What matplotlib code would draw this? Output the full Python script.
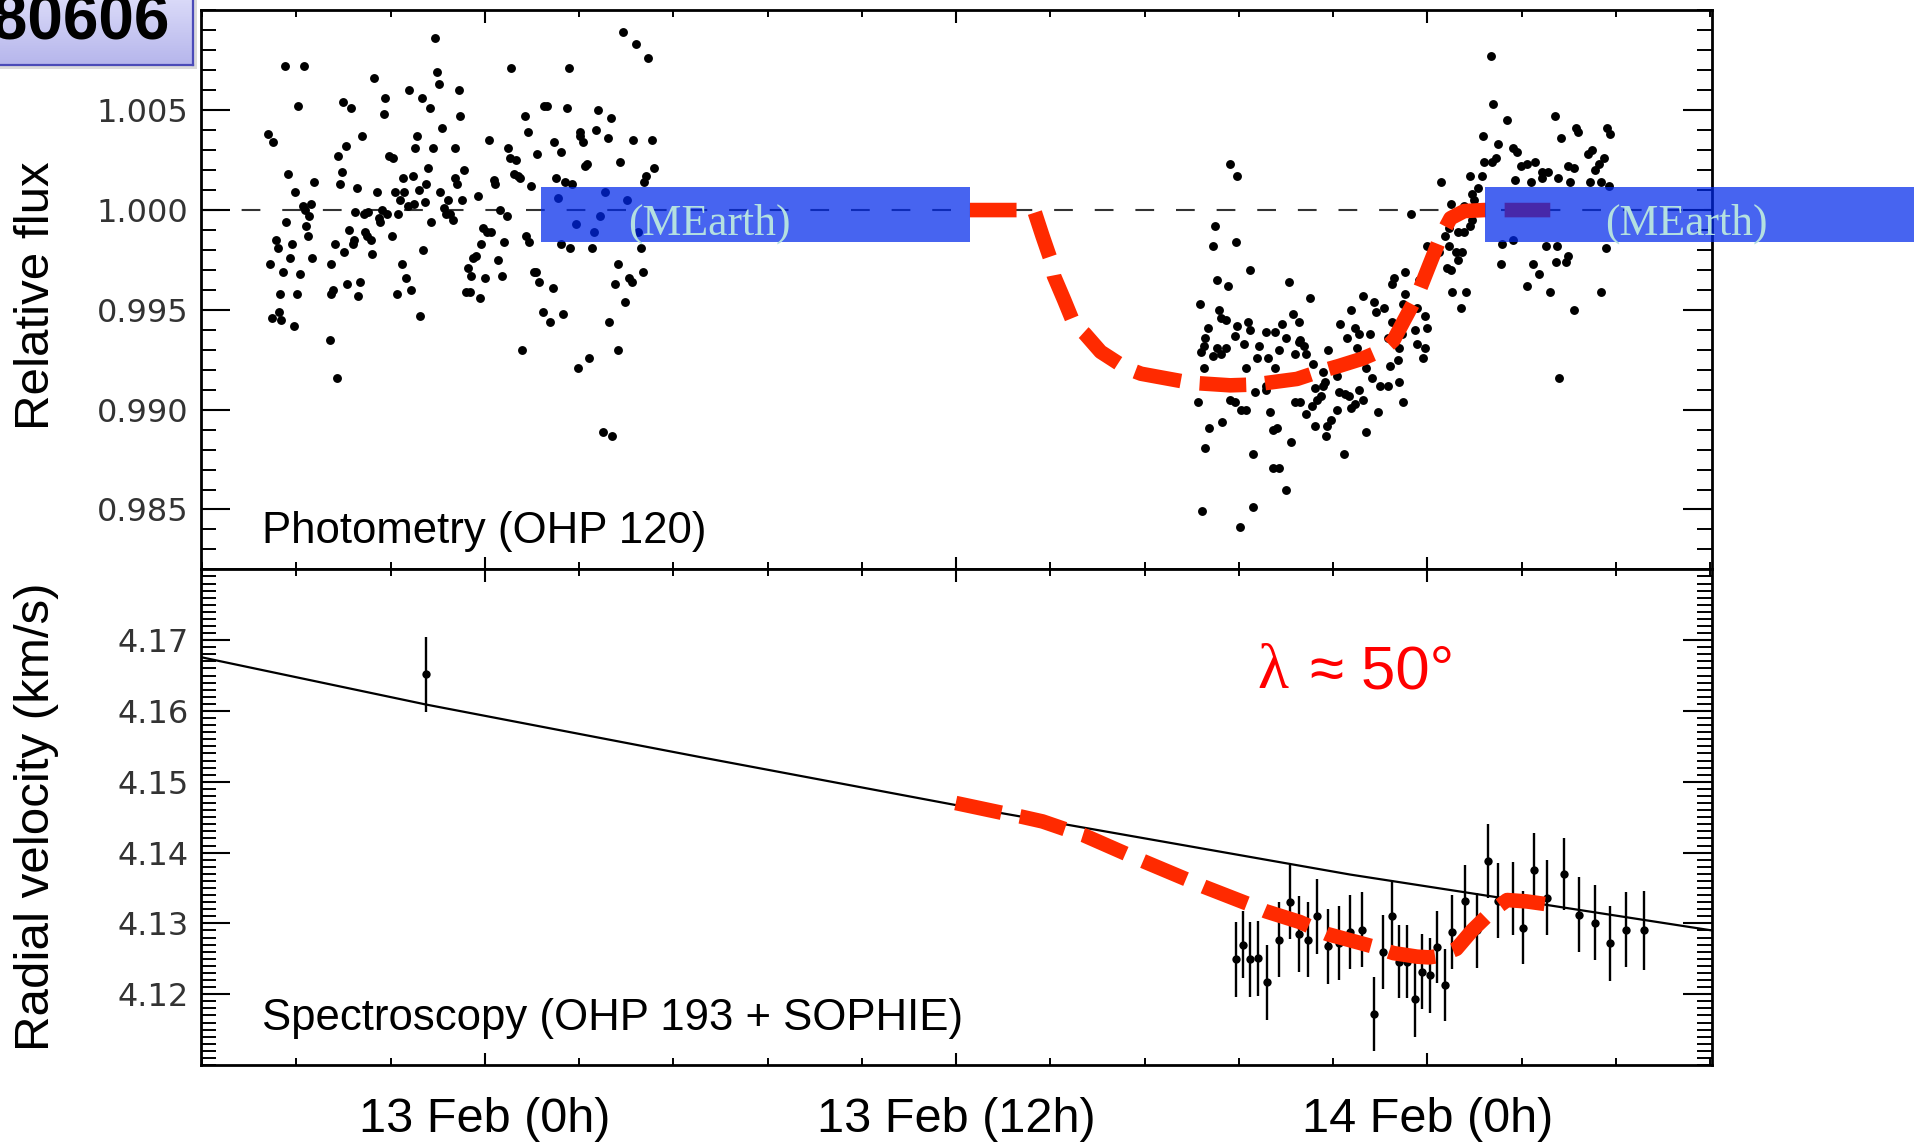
import numpy as np
import matplotlib
matplotlib.use("Agg")
import matplotlib.pyplot as plt
from matplotlib.patches import Rectangle
from matplotlib.colors import LinearSegmentedColormap
from matplotlib.ticker import FixedLocator, MultipleLocator, FormatStrFormatter

# x values are hours since 13 Feb 0h

# photometry before the transit (OHP 120)
phot_pre_hours = [
    -5.52, -5.39, -5.47, -5.41, -5.32, -5.27, -5.24, -5.18, -5.23, -5.14, -5.10, -5.06, -5.01, -4.97,
    -4.90, -4.86, -4.84, -4.78, -4.75, -4.70, -4.64, -4.61, -4.58, -4.55, -4.50, -4.48, -4.44, -4.39,
    -4.34, -3.95, -3.93, -3.91, -3.88, -3.82, -3.76, -3.74, -3.68, -3.65, -3.61, -3.58, -3.53, -3.50,
    -3.45, -3.41, -3.36, -3.34, -3.31, -3.25, -3.22, -3.18, -3.14, -3.08, -3.05, -3.00, -2.97, -2.91,
    -2.88, -2.82, -2.74, -2.70, -2.66, -2.63, -2.57, -2.55, -2.50, -2.43, -2.36, -2.34, -2.28, -2.25,
    -2.20, -2.16, -2.11, -2.08, -2.05, -2.00, -1.95, -1.92, -1.89, -1.83, -1.80, -1.77, -1.72, -1.68,
    -1.66, -1.61, -1.57, -1.52, -1.49, -1.45, -1.41, -1.36, -1.32, -1.26, -1.23, -1.18, -1.15, -1.09,
    -1.03, -1.00, -0.95, -0.89, -0.81, -0.77, -0.75, -0.70, -0.67, -0.64, -0.58, -0.52, -0.47, -0.43,
    -0.39, -0.35, -0.30, -0.23, -0.18, -0.13, -0.09, -0.05, 0.00, 0.05, 0.11, 0.16, 0.22, 0.27,
    0.33, 0.39, 0.44, 0.48, 0.56, 0.59, 0.64, 0.67, 0.73, 0.78, 0.84, 0.90, 0.95, 1.01,
    1.05, 1.10, 1.13, 1.18, 1.24, 1.30, 1.33, 1.39, 1.47, 1.50, 1.58, 1.66, 1.73, 1.75,
    1.81, 1.86, 1.93, 1.95, 2.00, 2.03, 2.09, 2.15, 2.18, 2.23, 2.32, 2.38, 2.41, 2.43,
    2.49, 2.55, 2.60, 2.66, 2.72, 2.77, 2.83, 2.89, 2.94, 3.00, 3.06, 3.14, 3.17, 3.20,
    3.23, 3.32, 3.38, 3.40, 3.45, 3.51, 3.57, 3.63, 3.68, 3.74, 3.77, 3.85, 3.91, 3.97,
    4.02, 4.05, 4.11, 4.16, 4.25, 4.31,
]
phot_pre_flux = [
    1.0038, 1.0034, 0.9973, 0.9946, 0.9985, 0.9981, 0.9949, 0.9945, 0.9958, 0.9969, 1.0072, 0.9994, 1.0018, 0.9976,
    0.9983, 0.9942, 1.0009, 0.9958, 1.0052, 0.9968, 1.0002, 1.0072, 1.0000, 0.9992, 0.9987, 0.9997, 1.0003, 0.9976,
    1.0014, 0.9935, 0.9958, 0.9973, 0.9960, 0.9983, 0.9916, 1.0027, 1.0013, 1.0019, 1.0054, 0.9979, 1.0032, 0.9963,
    0.9990, 1.0051, 0.9983, 0.9985, 0.9999, 1.0011, 0.9957, 0.9964, 1.0037, 0.9998, 0.9989, 0.9987, 0.9999, 0.9985,
    0.9978, 1.0066, 1.0009, 0.9996, 0.9994, 1.0000, 1.0048, 1.0056, 0.9998, 1.0027, 0.9987, 1.0026, 1.0009, 0.9958,
    0.9998, 1.0005, 0.9973, 1.0016, 1.0009, 0.9966, 1.0002, 1.0060, 0.9960, 1.0017, 1.0003, 1.0031, 1.0037, 1.0010,
    0.9947, 1.0056, 0.9980, 1.0004, 1.0013, 1.0021, 1.0051, 0.9994, 1.0031, 1.0086, 1.0069, 1.0063, 1.0009, 1.0041,
    1.0001, 0.9998, 1.0005, 0.9998, 0.9995, 1.0031, 1.0016, 1.0013, 1.0060, 1.0047, 1.0005, 1.0020, 0.9959, 0.9971,
    0.9959, 0.9967, 0.9976, 0.9977, 1.0007, 0.9956, 0.9983, 0.9991, 0.9966, 0.9989, 1.0035, 0.9989, 1.0015, 1.0013,
    0.9975, 1.0000, 0.9967, 0.9984, 0.9997, 1.0031, 1.0026, 1.0071, 1.0018, 1.0025, 1.0017, 1.0016, 0.9930, 1.0047,
    0.9987, 1.0039, 0.9984, 1.0012, 0.9969, 0.9969, 1.0028, 0.9964, 0.9949, 1.0052, 1.0052, 0.9944, 0.9961, 1.0034,
    1.0016, 1.0006, 1.0029, 0.9983, 0.9948, 1.0014, 1.0051, 1.0071, 0.9981, 1.0013, 0.9993, 0.9921, 1.0037, 1.0039,
    1.0034, 1.0022, 1.0023, 0.9926, 0.9981, 0.9989, 1.0040, 1.0050, 0.9997, 0.9889, 1.0009, 1.0036, 0.9944, 1.0046,
    0.9887, 0.9963, 0.9930, 0.9973, 1.0024, 1.0089, 0.9954, 1.0005, 0.9966, 0.9964, 1.0035, 1.0083, 0.9989, 0.9981,
    0.9969, 1.0014, 1.0017, 1.0076, 1.0035, 1.0021,
]

# photometry during the transit night
phot_in_hours = [
    18.98, 19.15, 18.58, 18.55, 19.12, 19.49, 18.64, 18.92, 20.48, 18.21, 18.70, 18.75, 18.87, 19.15,
    19.43, 19.49, 20.57, 20.74, 20.29, 18.41, 19.09, 19.32, 19.89, 20.12, 20.40, 20.74, 18.35, 18.30,
    18.64, 18.87, 19.72, 20.23, 18.24, 18.55, 18.75, 19.66, 19.95, 20.63, 18.30, 19.38, 20.12, 19.89,
    19.60, 19.89, 20.34, 18.16, 18.98, 19.09, 19.26, 19.38, 20.00, 20.63, 18.43, 18.78, 20.06, 20.17,
    18.35, 19.57, 20.54, 20.06, 20.23, 20.40, 19.55, 18.27, 19.23,
    25.61, 25.66, 26.03, 27.25, 25.41, 25.81, 26.18, 26.28, 27.41, 27.78, 27.83, 28.58, 28.65, 28.08,
    28.18, 28.38, 28.51, 25.44, 25.64, 25.74, 26.38, 26.53, 26.73, 26.93, 27.08, 27.33, 27.58, 27.73,
    25.39, 25.09, 25.29, 26.23, 26.63, 26.93, 27.63, 28.13, 28.28, 28.43, 28.63, 24.59, 24.34, 25.14,
    25.19, 23.59, 24.94, 24.54, 24.79, 24.94, 25.09, 25.14, 24.44, 24.29, 23.99, 24.54, 24.74, 24.89,
    24.79, 24.49, 24.59, 25.88, 25.91, 26.18, 27.01, 27.31, 27.58, 27.53, 27.28, 26.68, 26.85, 26.53,
    27.13, 27.73, 28.55, 28.41, 27.35, 23.44, 23.14, 23.09, 23.79, 24.64, 24.99, 24.86, 23.44, 23.39,
    23.74, 23.94, 23.99, 23.69, 23.74, 23.94, 23.89, 23.29, 23.36, 23.09, 22.89, 22.69, 22.99, 22.35,
    22.64, 22.05, 21.77, 22.15, 22.25, 22.20, 21.95, 22.54, 22.44, 22.59, 22.79, 22.99, 23.24, 23.04,
    23.29, 23.39, 22.74, 22.44, 21.87, 21.47, 21.67, 21.70, 21.40, 21.35, 21.15, 21.30, 21.20, 21.90,
    22.00, 22.15, 22.05, 21.70, 21.55, 21.45, 21.15, 21.05, 20.75, 20.90, 21.43, 21.00, 20.75, 20.85,
    20.90, 21.10, 21.35, 21.75, 22.25, 22.35,
]
phot_in_flux = [
    1.0023, 1.0017, 0.9992, 0.9982, 0.9984, 0.9970, 0.9965, 0.9962, 0.9964, 0.9953, 0.9950, 0.9946, 0.9945, 0.9942,
    0.9944, 0.9940, 0.9948, 0.9944, 0.9943, 0.9941, 0.9937, 0.9933, 0.9939, 0.9939, 0.9936, 0.9934, 0.9936, 0.9932,
    0.9931, 0.9931, 0.9932, 0.9930, 0.9929, 0.9927, 0.9928, 0.9926, 0.9926, 0.9928, 0.9921, 0.9921, 0.9921, 0.9912,
    0.9909, 0.9910, 0.9914, 0.9904, 0.9905, 0.9904, 0.9900, 0.9900, 0.9899, 0.9904, 0.9891, 0.9894, 0.9890, 0.9891,
    0.9881, 0.9878, 0.9884, 0.9871, 0.9871, 0.9860, 0.9851, 0.9849, 0.9841,
    1.0077, 1.0053, 1.0045, 1.0047, 1.0037, 1.0033, 1.0031, 1.0029, 1.0036, 1.0041, 1.0039, 1.0041, 1.0038, 1.0028,
    1.0030, 1.0023, 1.0026, 1.0024, 1.0024, 1.0026, 1.0022, 1.0023, 1.0024, 1.0019, 1.0019, 1.0016, 1.0022, 1.0021,
    1.0017, 1.0017, 1.0011, 1.0015, 1.0014, 1.0016, 1.0014, 1.0014, 1.0020, 1.0014, 1.0012, 1.0003, 1.0014, 1.0008,
    1.0005, 0.9998, 1.0002, 0.9991, 0.9989, 0.9989, 0.9992, 0.9995, 0.9987, 0.9979, 0.9982, 0.9982, 0.9979, 0.9979,
    0.9975, 0.9971, 0.9970, 0.9973, 0.9983, 0.9985, 0.9982, 0.9982, 0.9977, 0.9974, 0.9974, 0.9973, 0.9968, 0.9962,
    0.9959, 0.9950, 0.9981, 0.9959, 0.9916, 0.9969, 0.9966, 0.9963, 0.9965, 0.9959, 0.9959, 0.9951, 0.9958, 0.9953,
    0.9951, 0.9947, 0.9941, 0.9940, 0.9933, 0.9931, 0.9926, 0.9931, 0.9938, 0.9944, 0.9951, 0.9949, 0.9936, 0.9957,
    0.9954, 0.9950, 0.9943, 0.9941, 0.9938, 0.9931, 0.9936, 0.9938, 0.9921, 0.9916, 0.9912, 0.9912, 0.9925, 0.9922,
    0.9914, 0.9904, 0.9899, 0.9889, 0.9878, 0.9930, 0.9923, 0.9917, 0.9914, 0.9912, 0.9911, 0.9907, 0.9905, 0.9908,
    0.9907, 0.9903, 0.9901, 0.9900, 0.9895, 0.9892, 0.9892, 0.9902, 0.9904, 0.9898, 0.9887, 0.9956, 0.9935, 0.9932,
    0.9928, 0.9923, 0.9919, 0.9909, 0.9910, 0.9905,
]

# transit model (photometry)
model_phot_hours = [12.35, 13.80, 14.00, 14.20, 14.41, 14.49, 14.75, 15.00, 15.28, 15.68, 16.31, 16.71,
                    17.96, 18.98, 19.60, 20.68, 21.25, 21.75, 22.35, 22.89, 23.14, 23.39, 23.74, 24.04,
                    24.34, 24.59, 24.94, 25.44, 27.13]
model_phot_flux = [1.0000, 1.0000, 0.9999, 0.9987, 0.9975, 0.9967, 0.9955, 0.9943, 0.9938, 0.9929, 0.9921, 0.9918,
                   0.99135, 0.99122, 0.99126, 0.99154, 0.99191, 0.99219, 0.99256, 0.99302, 0.99348, 0.99441, 0.99570, 0.99719,
                   0.99867, 0.99959, 0.99995, 1.0000, 1.0000]

# MEarth coverage
mearth_start = [1.44, 25.46]
mearth_end = [12.35, 37.0]
mearth_low, mearth_high = 0.99841, 1.00114
mearth_label_hours = [3.64, 28.52]

# radial velocities (OHP 193 + SOPHIE)
rv_hours = [-1.49, 19.12, 19.30, 19.49, 19.68, 19.91, 20.23, 20.49, 20.72, 20.95, 21.20, 21.46, 21.74, 22.03,
            22.33, 22.64, 22.87, 23.10, 23.29, 23.49, 23.69, 23.87, 24.06, 24.24, 24.44, 24.64, 24.97, 25.26,
            25.54, 25.81, 26.18, 26.43, 26.71, 27.05, 27.48, 27.86, 28.28, 28.65, 29.05, 29.52]
rv_kms = [4.1652, 4.1249, 4.1270, 4.1249, 4.1251, 4.1217, 4.1277, 4.1330, 4.1285, 4.1277, 4.1310, 4.1268, 4.1272, 4.1288,
          4.1291, 4.1172, 4.1260, 4.1310, 4.1246, 4.1246, 4.1193, 4.1232, 4.1227, 4.1267, 4.1213, 4.1288, 4.1331, 4.1290,
          4.1388, 4.1332, 4.1335, 4.1294, 4.1375, 4.1336, 4.1370, 4.1312, 4.1301, 4.1272, 4.1291, 4.1290]
rv_err = [0.0053, 0.0053, 0.0047, 0.0053, 0.0053, 0.0053, 0.0053, 0.0052, 0.0053, 0.0053, 0.0053, 0.0053, 0.0052, 0.0052,
          0.0053, 0.0052, 0.0052, 0.0051, 0.0052, 0.0052, 0.0053, 0.0053, 0.0053, 0.0051, 0.0051, 0.0052, 0.0052, 0.0053,
          0.0052, 0.0053, 0.0052, 0.0052, 0.0052, 0.0053, 0.0051, 0.0053, 0.0053, 0.0053, 0.0053, 0.0056]

# keplerian orbit without transit
orbit_hours = [-7.23, -1.49, 5.47, 12.0, 22.03, 31.25]
orbit_kms = [4.1676, 4.1609, 4.1535, 4.1467, 4.1369, 4.1290]

# Rossiter-McLaughlin model
model_rv_hours = [11.99, 13.18, 13.64, 14.20, 14.83, 15.23, 16.42, 16.76, 17.96, 18.30, 19.55, 19.89, 20.75,
                  21.45, 22.64, 23.14, 23.74, 24.04, 24.29, 24.74, 25.14, 25.64, 26.03, 26.53, 27.18]
model_rv_kms = [4.1470, 4.1456, 4.1451, 4.1444, 4.1432, 4.1425, 4.1396, 4.1388, 4.1360, 4.1352, 4.1325, 4.1317, 4.1302,
                4.1285, 4.1267, 4.1258, 4.1253, 4.1252, 4.1254, 4.1264, 4.1290, 4.1317, 4.1333, 4.1331, 4.1326]

day_ticks = [0, 12, 24]
day_labels = ["13 Feb (0h)", "13 Feb (12h)", "14 Feb (0h)"]
flux_ticks = [0.985, 0.990, 0.995, 1.000, 1.005]
rv_ticks = [4.12, 4.13, 4.14, 4.15, 4.16, 4.17]

RED = "#ff2a00"
SANS = "Liberation Sans"


def style_axes(ax, yticks):
    ax.set_xlim(-7.23, 31.25)
    ax.xaxis.set_major_locator(FixedLocator(day_ticks))
    ax.xaxis.set_minor_locator(MultipleLocator(2.4))
    ax.yaxis.set_major_locator(FixedLocator(yticks))
    ax.yaxis.set_minor_locator(MultipleLocator(0.001))
    ax.tick_params(which="both", direction="in", top=True, right=True, color="black")
    ax.tick_params(axis="y", which="major", length=21, width=1.5,
                   labelsize=23, labelcolor="#333333", pad=9)
    ax.tick_params(axis="y", which="minor", length=10.5, width=1.4)
    ax.tick_params(axis="x", which="major", length=9, width=1.5)
    ax.tick_params(axis="x", which="minor", length=5, width=1.4)
    for s in ax.spines.values():
        s.set_linewidth(2.0)


fig = plt.figure(figsize=(19.14, 11.47), dpi=100)
ax1 = fig.add_axes([0.1050, 0.5036, 0.7895, 0.4873])
ax2 = fig.add_axes([0.1050, 0.0715, 0.7895, 0.4321])

# --- photometry panel
style_axes(ax1, flux_ticks)
ax1.set_ylim(0.982, 1.010)
ax1.yaxis.set_major_formatter(FormatStrFormatter("%.3f"))
ax1.tick_params(axis="x", labelbottom=False)

ax1.axhline(1.0, color="#333333", lw=1.5, dashes=(9, 10.5), zorder=1)
ax1.plot(phot_pre_hours, phot_pre_flux, "o", color="black", ms=6.4, mew=0, zorder=2)
ax1.plot(phot_in_hours, phot_in_flux, "o", color="black", ms=6.4, mew=0, zorder=2)
ax1.plot(model_phot_hours, model_phot_flux, color=RED, lw=10.5, dashes=(3.2, 1.3), zorder=4)

for x0, x1, xl in zip(mearth_start, mearth_end, mearth_label_hours):
    ax1.add_patch(Rectangle((x0, mearth_low), x1 - x0, mearth_high - mearth_low,
                            facecolor=(0, 40 / 255, 235 / 255), alpha=0.72, lw=0,
                            zorder=5, clip_on=False))
    ax1.text(xl, 0.99875, "(MEarth)", family="Liberation Serif", fontsize=31.5,
             color="#b4e0e0", va="baseline", zorder=6, clip_on=False)

ax1.text(0.0404, 0.0472, "Photometry (OHP 120)", transform=ax1.transAxes,
         fontsize=31.5, family=SANS, va="baseline")
ax1.set_ylabel("Relative flux", fontsize=35.5, family=SANS, va="center")
ax1.yaxis.set_label_coords(-0.1086, 0.49)

# --- radial velocity panel
style_axes(ax2, rv_ticks)
ax2.set_ylim(4.11, 4.18)
ax2.yaxis.set_major_formatter(FormatStrFormatter("%.2f"))
ax2.set_xticks(day_ticks)
ax2.set_xticklabels(day_labels, fontsize=35, family=SANS)
ax2.tick_params(axis="x", which="major", pad=23)

ax2.plot(orbit_hours, orbit_kms, color="black", lw=1.6, zorder=2)
ax2.errorbar(rv_hours, rv_kms, yerr=rv_err, fmt="o", color="black", ms=6,
             mew=0, elinewidth=1.7, capsize=0, zorder=3)
ax2.plot(model_rv_hours, model_rv_kms, color=RED, lw=10.5, dashes=(3.2, 1.3), zorder=4)

ax2.text(19.66, 4.1632, "λ", family="Liberation Serif", fontsize=46, color="red", va="baseline")
ax2.text(21.0, 4.1632, "≈ 50°", family=SANS, fontsize=44.5, color="red", va="baseline")
ax2.text(0.0404, 0.0706, "Spectroscopy (OHP 193 + SOPHIE)", transform=ax2.transAxes,
         fontsize=31.5, family=SANS, va="baseline")
ax2.set_ylabel("Radial velocity (km/s)", fontsize=35.5, family=SANS, va="center")
ax2.yaxis.set_label_coords(-0.1086, 0.5)

# --- target name box, cut by the left edge of the slide
fig.add_artist(Rectangle((0, 1 - 69 / 1147), 197 / 1914, 69 / 1147, transform=fig.transFigure,
                         facecolor="#c4c4c4", edgecolor="none", alpha=0.6, zorder=-1))
tax = fig.add_axes([0.0, 1 - 65 / 1147, 193 / 1914, 0.07])
grad = LinearSegmentedColormap.from_list("box", ["#e2e2fb", "#b6b6ec"])
tax.imshow(np.linspace(0, 1, 64)[:, None], cmap=grad, aspect="auto", extent=[0, 1, 0, 1])
tax.set_xticks([])
tax.set_yticks([])
tax.spines["left"].set_visible(False)
tax.spines["top"].set_visible(False)
tax.spines["right"].set_color("#4b4bb8")
tax.spines["bottom"].set_color("#4b4bb8")
tax.spines["right"].set_linewidth(1.6)
tax.spines["bottom"].set_linewidth(1.6)
fig.text(-118 / 1914, 1 - 40 / 1147, "HD 80606", fontsize=46, fontweight="bold",
         family=SANS, va="baseline", ha="left")

fig.savefig("out.png", dpi=100)
